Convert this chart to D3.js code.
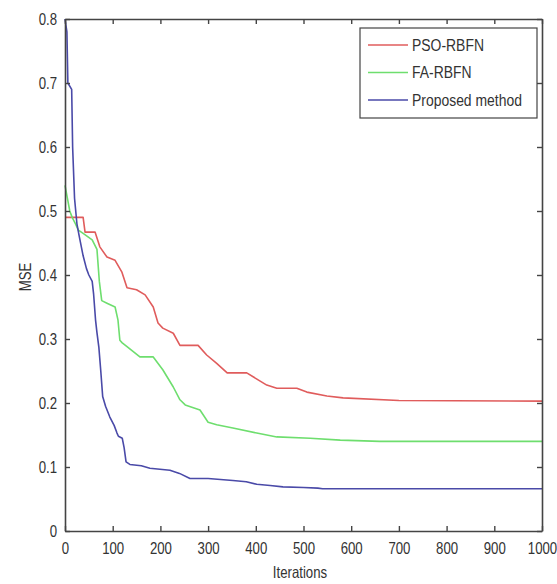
<!DOCTYPE html>
<html>
<head>
<meta charset="utf-8">
<script src="https://cdn.jsdelivr.net/npm/d3@7"></script>
<style>
  html, body { margin: 0; padding: 0; background: #fff; }
  svg text { font-family: "Liberation Sans", Arial, Helvetica, sans-serif; fill: #333; }
</style>
</head>
<body>
<svg id="chart" width="557" height="584"></svg>
<script>
// Convergence of MSE over training iterations for three RBF network trainers
const seriesNames = ["PSO-RBFN", "FA-RBFN", "Proposed method"];
const seriesColors = ["#e05c5c", "#6ede6e", "#4a4aa8"];

const psoIter = [0, 38, 42, 63, 73, 88, 105, 119, 130, 150, 168, 185, 195, 205, 227, 241, 279, 297, 318, 340, 367, 381, 423, 444, 486, 507, 549, 583, 700, 1000];
const psoMse  = [0.49, 0.49, 0.467, 0.467, 0.444, 0.428, 0.423, 0.405, 0.38, 0.377, 0.369, 0.35, 0.325, 0.317, 0.309, 0.29, 0.29, 0.275, 0.262, 0.247, 0.247, 0.247, 0.228, 0.223, 0.223, 0.217, 0.211, 0.208, 0.204, 0.203];

const faIter = [0, 5, 10, 15, 22, 28, 38, 57, 67, 72, 77, 88, 105, 111, 115, 120, 130, 157, 185, 205, 227, 241, 252, 283, 300, 318, 352, 402, 444, 514, 577, 660, 1000];
const faMse  = [0.54, 0.52, 0.50, 0.49, 0.48, 0.47, 0.465, 0.455, 0.44, 0.39, 0.36, 0.356, 0.35, 0.33, 0.298, 0.294, 0.288, 0.272, 0.272, 0.252, 0.225, 0.205, 0.197, 0.189, 0.17, 0.166, 0.161, 0.153, 0.147, 0.145, 0.142, 0.14, 0.14];

const pmIter = [0, 4, 6, 14, 16, 20, 25, 30, 38, 45, 50, 57, 60, 64, 67, 71, 75, 79, 85, 94, 103, 109, 112, 120, 124, 128, 136, 160, 178, 220, 240, 262, 300, 352, 380, 402, 430, 457, 500, 530, 540, 1000];
const pmMse  = [0.80, 0.78, 0.70, 0.69, 0.60, 0.52, 0.48, 0.46, 0.43, 0.41, 0.40, 0.39, 0.37, 0.33, 0.31, 0.287, 0.25, 0.21, 0.195, 0.178, 0.165, 0.153, 0.148, 0.145, 0.13, 0.108, 0.104, 0.102, 0.098, 0.095, 0.09, 0.082, 0.082, 0.079, 0.077, 0.073, 0.071, 0.069, 0.068, 0.067, 0.066, 0.066];

const xTicks = [0, 100, 200, 300, 400, 500, 600, 700, 800, 900, 1000];
const yTicks = [0, 0.1, 0.2, 0.3, 0.4, 0.5, 0.6, 0.7, 0.8];

const series = [
  { name: seriesNames[0], color: seriesColors[0], pts: d3.zip(psoIter, psoMse) },
  { name: seriesNames[1], color: seriesColors[1], pts: d3.zip(faIter, faMse) },
  { name: seriesNames[2], color: seriesColors[2], pts: d3.zip(pmIter, pmMse) }
];

const svg = d3.select("#chart");
const plotLeft = 65, plotRight = 542, plotTop = 19, plotBottom = 531;

const x = d3.scaleLinear().domain([0, 1000]).range([plotLeft, plotRight]);
const y = d3.scaleLinear().domain([0, 0.8]).range([plotBottom, plotTop]);

const axisColor = "#444";
const fontSize = 16.5;
const squeeze = 0.8;   // condensed lettering

// squeeze text horizontally about its anchor point
function condense(sel, k = squeeze) {
  sel.each(function () {
    const t = d3.select(this);
    const tx = +t.attr("x") || 0, ty = +t.attr("y") || 0;
    const prev = t.attr("transform") || "";
    t.attr("x", 0).attr("y", 0)
     .attr("transform", `${prev} translate(${tx},${ty}) scale(${k},1)`);
  });
}

// data lines
const line = d3.line().x(d => x(d[0])).y(d => y(d[1]));
const plot = svg.append("g");
series.forEach(s => {
  plot.append("path")
    .attr("d", line(s.pts))
    .attr("fill", "none")
    .attr("stroke", s.color)
    .attr("stroke-width", 1.6)
    .attr("stroke-linejoin", "round");
});

// axes with inward ticks, on all four sides
const fmtY = d => d === 0 ? "0" : d3.format(".1f")(d);
const xAxis = d3.axisBottom(x).tickValues(xTicks).tickSizeInner(-5).tickSizeOuter(0).tickPadding(11).tickFormat(d3.format("d"));
const yAxis = d3.axisLeft(y).tickValues(yTicks).tickSizeInner(-5).tickSizeOuter(0).tickPadding(8).tickFormat(fmtY);
const xAxisTop = d3.axisTop(x).tickValues(xTicks).tickSizeInner(-5).tickSizeOuter(0).tickFormat("");
const yAxisRight = d3.axisRight(y).tickValues(yTicks).tickSizeInner(-5).tickSizeOuter(0).tickFormat("");

function styleAxis(g) {
  g.select(".domain").attr("stroke", axisColor).attr("stroke-width", 1.6);
  g.selectAll(".tick line").attr("stroke", axisColor).attr("stroke-width", 1.4);
  g.selectAll(".tick text").attr("font-size", fontSize).attr("fill", "#333").call(condense);
  g.attr("font-family", null);
}

svg.append("g").attr("transform", `translate(0,${plotBottom})`).call(xAxis).call(styleAxis);
svg.append("g").attr("transform", `translate(${plotLeft},0)`).call(yAxis).call(styleAxis);
svg.append("g").attr("transform", `translate(0,${plotTop})`).call(xAxisTop).call(styleAxis);
svg.append("g").attr("transform", `translate(${plotRight},0)`).call(yAxisRight).call(styleAxis);

// axis titles
svg.append("text")
  .attr("x", 300).attr("y", 578)
  .attr("text-anchor", "middle")
  .attr("font-size", fontSize)
  .text("Iterations")
  .call(condense);

svg.append("text")
  .attr("transform", `translate(31,277) rotate(-90)`)
  .attr("text-anchor", "middle")
  .attr("font-size", fontSize)
  .text("MSE")
  .call(condense);

// legend
const lg = svg.append("g");
lg.append("rect")
  .attr("x", 360).attr("y", 28).attr("width", 177).attr("height", 90)
  .attr("fill", "#fff").attr("stroke", axisColor).attr("stroke-width", 1.2);
series.forEach((s, i) => {
  const yy = 45 + i * 27.5;
  lg.append("line")
    .attr("x1", 368).attr("x2", 408).attr("y1", yy).attr("y2", yy)
    .attr("stroke", s.color).attr("stroke-width", 1.6);
  lg.append("text")
    .attr("x", 412).attr("y", yy).attr("dy", "0.35em")
    .attr("font-size", 17)
    .text(s.name)
    .call(condense, 0.82);
});
</script>
</body>
</html>
